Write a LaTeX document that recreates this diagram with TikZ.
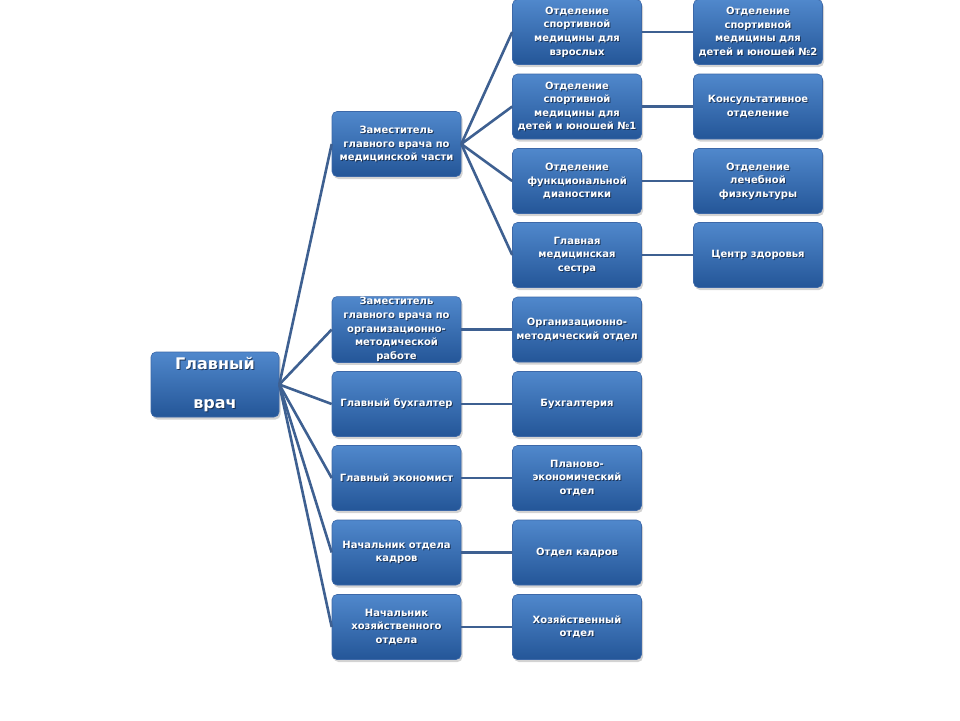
\documentclass[tikz,border=0pt]{standalone}
\usepackage{fontspec}
\setmainfont{DejaVu Sans}
\usetikzlibrary{shadows}
\definecolor{boxtop}{RGB}{80,136,204}
\definecolor{boxbot}{RGB}{36,86,152}
\definecolor{boxedge}{RGB}{60,104,168}
\definecolor{linkc}{RGB}{62,96,145}
\definecolor{txtsh}{RGB}{20,35,60}
\tikzset{
  orgbox/.style={rounded corners=5pt, top color=boxtop, bottom color=boxbot, draw=boxedge, line width=0.6pt,
    minimum width=129pt, minimum height=65pt, inner sep=1pt, align=center, text=white,
    font=\fontsize{10}{13.6}\selectfont\bfseries,
    drop shadow={opacity=0.35, shadow xshift=1.5pt, shadow yshift=-2.5pt}},
  rootbox/.style={orgbox, minimum width=128pt, font=\fontsize{16}{39}\selectfont\bfseries},
  link/.style={draw=linkc, line width=2.6pt}
}
% box whose text carries a soft dark shadow
\newcommand\obox[4]{%
  \node[#1, path picture={\node[draw=none, fill=none, text=txtsh, opacity=0.75, inner sep=1pt, align=center,
     xshift=1pt, yshift=-1pt] at (path picture bounding box.center) {#4};}] (#2) at (#3) {#4};}
\begin{document}
\begin{tikzpicture}[x=1pt,y=-1pt]
\useasboundingbox (0,0) rectangle (960,720);
% root
\obox{rootbox}{root}{215,384.5}{Главный\\врач}
% level 1
\obox{orgbox}{m1}{396.5,144}{Заместитель\\главного врача по\\медицинской части}
\obox{orgbox}{m2}{396.5,329.5}{Заместитель\\главного врача по\\организационно-\\методической\\работе}
\obox{orgbox}{m3}{396.5,404}{Главный бухгалтер}
\obox{orgbox}{m4}{396.5,478}{Главный экономист}
\obox{orgbox}{m5}{396.5,552.5}{Начальник отдела\\кадров}
\obox{orgbox}{m6}{396.5,627}{Начальник\\хозяйственного\\отдела}
% level 2
\obox{orgbox}{a1}{577,32}{Отделение\\спортивной\\медицины для\\взрослых}
\obox{orgbox}{a2}{577,106.5}{Отделение\\спортивной\\медицины для\\детей и юношей №1}
\obox{orgbox}{a3}{577,181}{Отделение\\функциональной\\дианостики}
\obox{orgbox}{a4}{577,255}{Главная\\медицинская\\сестра}
\obox{orgbox}{b2}{577,329.5}{Организационно-\\методический отдел}
\obox{orgbox}{b3}{577,404}{Бухгалтерия}
\obox{orgbox}{b4}{577,478}{Планово-\\экономический\\отдел}
\obox{orgbox}{b5}{577,552.5}{Отдел кадров}
\obox{orgbox}{b6}{577,627}{Хозяйственный\\отдел}
% level 3
\obox{orgbox}{c1}{758,32}{Отделение\\спортивной\\медицины для\\детей и юношей №2}
\obox{orgbox}{c2}{758,106.5}{Консультативное\\отделение}
\obox{orgbox}{c3}{758,181}{Отделение\\лечебной\\физкультуры}
\obox{orgbox}{c4}{758,255}{Центр здоровья}
% connectors
\foreach \t in {m1,m2,m3,m4,m5,m6}{ \draw[link] (root.east) -- (\t.west); }
\foreach \t in {a1,a2,a3,a4}{ \draw[link] (m1.east) -- (\t.west); }
\draw[link] (a1.east) -- (c1.west);
\draw[link] (a2.east) -- (c2.west);
\draw[link] (a3.east) -- (c3.west);
\draw[link] (a4.east) -- (c4.west);
\draw[link] (m2.east) -- (b2.west);
\draw[link] (m3.east) -- (b3.west);
\draw[link] (m4.east) -- (b4.west);
\draw[link] (m5.east) -- (b5.west);
\draw[link] (m6.east) -- (b6.west);
\end{tikzpicture}
\end{document}
